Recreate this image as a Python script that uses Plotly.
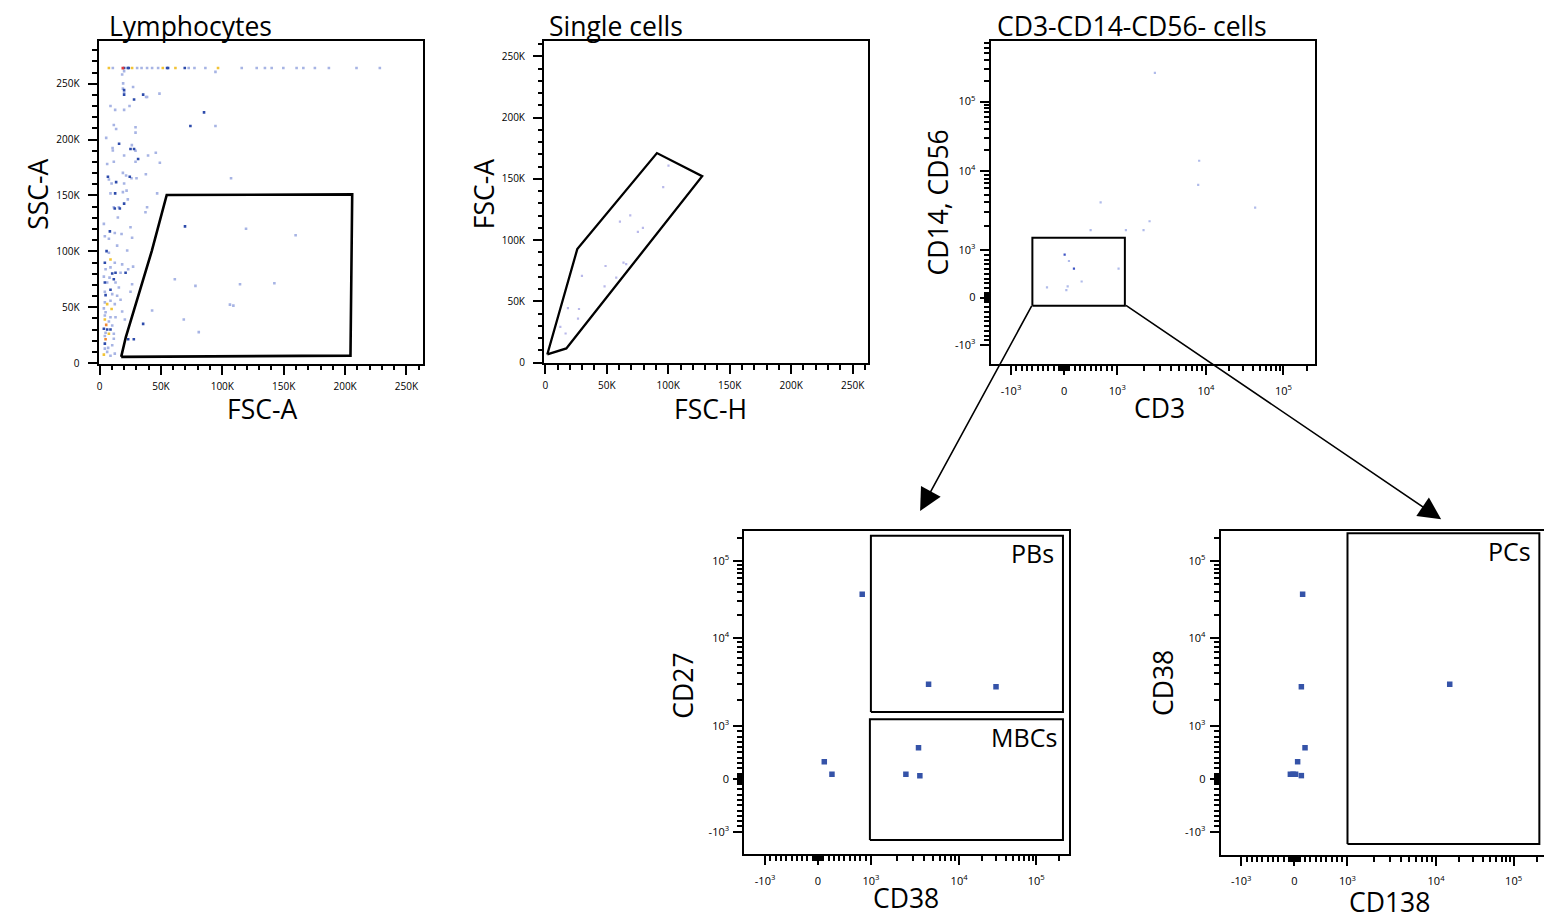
import numpy as np
import plotly.graph_objects as go

# page is 1552x922; the HTML body has an 8px margin, so the figure is offset by 8px
PAGE_W, PAGE_H = 1552, 922
OFF = 8
W, H = PAGE_W - OFF, PAGE_H - OFF
FONT = "Open Sans"

# ---------------- DATA ----------------
# Panel 1 (Lymphocytes): FSC-A (x) vs SSC-A (y), values in thousands
p1_top_y = 264.0
p1_top_light_x = [10.8, 30.6, 34.2, 38.7, 42.8, 47.7, 72.6, 77.3, 86.2, 115.8, 128.0, 134.7,
                  140.2, 149.7, 160.5, 166.0, 175.4, 186.8, 209.3, 228.3]
p1_top_dark_x = [20.0, 23.0, 23.8, 55.0, 55.8, 69.4]
p1_top_yellow_x = [7.6, 26.5, 51.5, 61.8, 96.5]
p1_top_red_x = [19.0]

p1_light = [(18.4, 258.2), (20.0, 261.2), (94.4, 260.6), (19.2, 250.3), (27.3, 247.0), (19.0, 245.6),
            (20.0, 242.3), (48.8, 241.1), (38.7, 238.1), (37.9, 238.1), (8.9, 230.1), (24.4, 230.1),
            (12.7, 226.6), (20.0, 226.6), (11.6, 213.0), (94.4, 212.1), (29.3, 211.0), (13.5, 209.5),
            (29.3, 206.2), (5.4, 201.5), (26.3, 195.0), (10.6, 192.4), (29.3, 190.0), (10.8, 190.2),
            (45.8, 188.2), (39.5, 185.8), (20.0, 185.8), (11.6, 180.2), (29.3, 180.2), (49.1, 179.3),
            (6.2, 178.2), (19.0, 170.2), (37.7, 169.0), (21.6, 167.8), (26.0, 165.4), (30.1, 165.4),
            (107.1, 165.4), (7.6, 164.3), (9.8, 160.7), (20.0, 160.7), (22.0, 154.3), (19.0, 153.0),
            (8.9, 151.9), (46.9, 151.9), (23.0, 146.5), (38.7, 139.4), (15.7, 139.4), (11.6, 139.4),
            (37.4, 135.0), (14.9, 130.3), (3.5, 124.6), (25.2, 121.5), (119.3, 120.2), (12.4, 116.4),
            (17.9, 115.5), (159.7, 114.4), (4.3, 113.5), (26.5, 112.2), (7.6, 111.3), (14.3, 105.1),
            (7.6, 98.7), (22.5, 100.7), (12.4, 89.8), (18.4, 88.3), (27.3, 86.3), (8.9, 85.6),
            (4.9, 83.9), (23.3, 83.9), (17.1, 80.9), (3.5, 77.4), (8.1, 76.5), (61.3, 75.0),
            (78.1, 69.1), (6.2, 72.1), (13.0, 72.1), (26.5, 70.6), (114.4, 70.6), (142.4, 71.5),
            (15.7, 67.6), (4.3, 63.8), (25.2, 63.8), (10.3, 61.7), (14.3, 60.3), (17.1, 56.7),
            (8.9, 55.8), (4.3, 54.3), (12.4, 52.8), (106.2, 52.3), (109.0, 51.4), (3.5, 49.0),
            (18.4, 46.1), (42.8, 47.0), (4.9, 45.5), (4.3, 42.6), (8.9, 41.0), (13.0, 41.0),
            (20.6, 39.0), (68.6, 39.0), (7.6, 37.2), (10.3, 33.7), (4.9, 27.1), (11.6, 26.2),
            (80.8, 27.7), (4.3, 24.2), (11.6, 21.8), (10.3, 16.0), (7.0, 13.6), (4.3, 12.9),
            (8.9, 6.5), (6.2, 10.0), (12.4, 8.5)]
p1_dark = [(20.0, 244.3), (20.0, 240.2), (35.5, 240.2), (28.1, 235.8), (85.1, 224.3), (74.0, 212.1),
           (15.9, 196.2), (25.2, 191.5), (28.1, 191.5), (31.4, 182.6), (24.6, 166.7), (6.8, 166.7),
           (13.5, 161.9), (12.7, 151.9), (20.0, 142.7), (12.4, 138.3), (16.5, 138.3), (69.6, 122.3),
           (8.4, 117.9), (5.7, 100.2), (4.3, 89.8), (13.0, 80.9), (10.3, 80.1), (21.2, 80.9),
           (11.6, 75.0), (4.3, 72.1), (8.9, 65.6), (4.9, 60.8), (35.5, 35.1), (3.5, 30.7),
           (6.2, 30.1), (8.9, 30.1), (23.3, 21.3), (27.9, 21.3), (4.3, 17.4)]
p1_yellow = [(8.9, 92.7), (6.2, 52.8), (9.8, 48.4), (4.3, 39.0), (7.6, 26.2), (3.5, 7.6)]
p1_orange = [(5.4, 34.2), (4.9, 21.3)]
p1_gate = [(17.6, 5.6), (21.4, 23.3), (42.5, 100.2), (54.7, 150.4), (205.8, 151.0), (204.4, 6.7)]

# Panel 2 (Single cells): FSC-H (x) vs FSC-A (y), thousands
p2_points = [(100.2, 160.8), (95.9, 143.3), (69.1, 120.3), (60.7, 115.2), (79.4, 110.1), (75.3, 106.8),
             (49.0, 78.9), (63.6, 81.7), (65.8, 80.5), (29.8, 70.8), (57.7, 69.5), (48.2, 62.2),
             (18.4, 44.6), (27.4, 43.8), (26.6, 35.9), (12.2, 29.2), (16.5, 23.8)]
p2_gate = [(1.6, 6.7), (17.1, 11.6), (127.6, 152.2), (90.8, 171.1), (26.0, 92.7)]

# Panel 3 (CD3-CD14-CD56- cells): CD3 (x) vs CD14, CD56 (y), raw fluorescence
p3_light = [(2655, 260000), (8395, 14000), (8185, 6668), (686, 4000), (43200, 3434), (2312, 2312),
            (498, 1782), (1250, 1782), (1977, 1782), (90, 770), (1033, 611), (329, 339),
            (-323, 213), (66, 234), (41, 157)]
p3_dark = [(9, 903), (184, 611)]
p3_gate = dict(x0=-598, x1=1217, y0=-172, y1=1429)

# Panel 4: CD38 (x) vs CD27 (y)
p4_points = [(836, 37200), (4508, 2990), (30100, 2793), (119, 325), (264, 88), (3467, 589),
             (2493, 88), (3590, 62)]
p4_gate_pb = dict(x0=1000, x1=221900, y0=1445, y1=212800)
p4_gate_mbc = dict(x0=981, x1=221900, y0=-1242, y1=1194)

# Panel 5: CD138 (x) vs CD38 (y)
p5_points = [(156, 37200), (132, 2793), (15000, 2990), (201, 589), (62, 325), (-75, 88),
             (-24, 88), (24, 88), (132, 62)]
p5_gate_pc = dict(x0=1000, x1=215000, y0=-1379, y1=229600)

lin_major = [0, 50, 100, 150, 200, 250]
lin_labels = ["0", "50K", "100K", "150K", "200K", "250K"]
biex_major = [-1000, 0, 1000, 10000, 100000]
biex_labels = ["-10<sup>3</sup>", "0", "10<sup>3</sup>", "10<sup>4</sup>", "10<sup>5</sup>"]

# ---------------- SCALE (FlowJo-like biexponential display) ----------------
LIN = 0.6     # display units for 0..1000 (linear part)
TOP = 0.875   # display units per decade above 1e4


def biex(v):
    v = np.asarray(v, dtype=float)
    a = np.abs(v)
    lg = np.log10(np.maximum(a, 1e-9))
    u = np.where(a <= 1000, LIN * a / 1000,
                 np.where(a <= 1e4, LIN + (lg - 3), LIN + 1 + TOP * (lg - 4)))
    return np.sign(v) * u


def biex_minor(lo, hi):
    vals = []
    for k in range(1, 10):
        vals += [k * 10, k * 100, -k * 10, -k * 100]
    for dec in (1e3, 1e4, 1e5):
        for k in range(2, 10):
            vals += [k * dec, -k * dec]
    vals = np.array(sorted(set(vals)))
    u = biex(vals)
    majors = set(np.round(biex(biex_major), 6))
    return [float(x) for x in u if lo <= x <= hi and round(float(x), 6) not in majors]


# ---------------- LAYOUT HELPERS (page pixel positions -> paper) ----------------
def px2p(px):
    return (px - OFF) / W


def py2p(py):
    return 1 - (py - OFF) / H


def xdom(x0, x1):
    return [px2p(x0), px2p(x1)]


def ydom(y0, y1):
    return [py2p(y1), py2p(y0)]


panels = {
    1: dict(x=(96.7, 421.7), y=(41, 366), xr=[-0.8, 263.6], yr=[-0.5, 288.4]),
    2: dict(x=(542.7, 867), y=(41, 365.7), xr=[-1.06, 262.4], yr=[-0.57, 262.8]),
    3: dict(x=(990, 1315), y=(41, 366.7), xr=[-0.829, 2.835], yr=[-0.843, 3.243]),
    4: dict(x=(743.3, 1068.7), y=(534, 860), xr=[-0.835, 2.85], yr=[-0.858, 2.822]),
    5: dict(x=(1220.3, 1546), y=(534, 860.7), xr=[-0.831, 2.841], yr=[-0.866, 2.822]),
}

base_axis = dict(showline=True, linecolor="black", linewidth=2, mirror=True, ticks="outside",
                 ticklen=9, tickwidth=1.6, tickcolor="black", showgrid=False, zeroline=False,
                 tickfont=dict(family=FONT, size=10, color="black"), fixedrange=True, tickmode="array")


def lin_axis(i, which, standoff):
    p = panels[i]
    ax = dict(base_axis)
    ax.update(tickvals=lin_major, ticktext=lin_labels, ticklabelstandoff=standoff,
              minor=dict(ticks="outside", ticklen=4.5, tickwidth=1.6, tickcolor="black", dtick=10, tick0=0))
    if which == "x":
        ax.update(domain=xdom(*p["x"]), range=p["xr"], anchor="y" + ("" if i == 1 else str(i)))
    else:
        ax.update(domain=ydom(*p["y"]), range=p["yr"], anchor="x" + ("" if i == 1 else str(i)))
    return ax


def biex_axis(i, which, standoff):
    p = panels[i]
    rng = p["xr"] if which == "x" else p["yr"]
    ax = dict(base_axis)
    ax.update(tickvals=[float(u) for u in biex(biex_major)], ticktext=biex_labels, ticklabelstandoff=standoff,
              tickfont=dict(family=FONT, size=11, color="black"),
              minor=dict(ticks="outside", ticklen=5, tickwidth=1.6, tickcolor="black",
                         tickmode="array", tickvals=biex_minor(rng[0], rng[1])))
    if which == "x":
        ax.update(domain=xdom(*p["x"]), range=rng, anchor="y" + str(i))
    else:
        ax.update(domain=ydom(*p["y"]), range=rng, anchor="x" + str(i))
    return ax


def to_pixel(i, xu, yu):
    p = panels[i]
    (x0, x1), (y0, y1) = p["x"], p["y"]
    px = x0 + (xu - p["xr"][0]) / (p["xr"][1] - p["xr"][0]) * (x1 - x0)
    py = y1 - (yu - p["yr"][0]) / (p["yr"][1] - p["yr"][0]) * (y1 - y0)
    return px, py


def xy(pts):
    return [a for a, _ in pts], [b for _, b in pts]


# ---------------- FIGURE ----------------
fig = go.Figure()


def add_pts(x, y, ax, color, size, symbol="square"):
    fig.add_trace(go.Scatter(x=x, y=y, mode="markers", xaxis=ax[0], yaxis=ax[1], hoverinfo="skip",
                             marker=dict(symbol=symbol, size=size, color=color, line=dict(width=0))))


def add_line(x, y, ax, width=2):
    fig.add_trace(go.Scatter(x=x, y=y, mode="lines", xaxis=ax[0], yaxis=ax[1], hoverinfo="skip",
                             line=dict(color="black", width=width)))


def add_rect(g, ax, width=2):
    xs = biex([g["x0"], g["x1"], g["x1"], g["x0"], g["x0"]])
    ys = biex([g["y0"], g["y0"], g["y1"], g["y1"], g["y0"]])
    add_line(xs, ys, ax, width)


LIGHT, DARK, YEL, ORG, RED = "#a7b4e4", "#2d4bab", "#f2c436", "#ef8a35", "#e03a3a"

# Panel 1
A1 = ("x", "y")
lx, ly = xy(p1_light)
add_pts(lx + p1_top_light_x, ly + [p1_top_y] * len(p1_top_light_x), A1, LIGHT, 2.6)
dx, dy = xy(p1_dark)
add_pts(dx + p1_top_dark_x, dy + [p1_top_y] * len(p1_top_dark_x), A1, DARK, 2.6)
yx, yy = xy(p1_yellow)
add_pts(yx + p1_top_yellow_x, yy + [p1_top_y] * len(p1_top_yellow_x), A1, YEL, 2.6)
ox, oy = xy(p1_orange)
add_pts(ox, oy, A1, ORG, 2.6)
add_pts(p1_top_red_x, [p1_top_y] * len(p1_top_red_x), A1, RED, 2.8)
gx, gy = xy(p1_gate + p1_gate[:1])
add_line(gx, gy, A1, 2.6)

# Panel 2
A2 = ("x2", "y2")
px2, py2 = xy(p2_points)
add_pts(px2, py2, A2, "#b9b9ea", 2.2)
gx, gy = xy(p2_gate + p2_gate[:1])
add_line(gx, gy, A2, 2.3)

# Panel 3
A3 = ("x3", "y3")
x3, y3 = xy(p3_light)
add_pts(biex(x3), biex(y3), A3, "#b0bbea", 2.2)
x3d, y3d = xy(p3_dark)
add_pts(biex(x3d), biex(y3d), A3, "#3f55c4", 2.2)
add_rect(p3_gate, A3, 2)

# Panel 4
A4 = ("x4", "y4")
x4, y4 = xy(p4_points)
add_pts(biex(x4), biex(y4), A4, "#3553a8", 5.5)
add_rect(p4_gate_pb, A4, 2)
add_rect(p4_gate_mbc, A4, 2)

# Panel 5
A5 = ("x5", "y5")
x5, y5 = xy(p5_points)
add_pts(biex(x5), biex(y5), A5, "#3553a8", 5.5)
add_rect(p5_gate_pc, A5, 2)

layout = dict(width=W, height=H, margin=dict(l=0, r=0, t=0, b=0), showlegend=False,
              paper_bgcolor="white", plot_bgcolor="white", font=dict(family=FONT, color="black"))
layout["xaxis"] = lin_axis(1, "x", 3)
layout["yaxis"] = lin_axis(1, "y", 6)
layout["xaxis2"] = lin_axis(2, "x", 3)
layout["yaxis2"] = lin_axis(2, "y", 6)
for i in (3, 4, 5):
    layout["xaxis%d" % i] = biex_axis(i, "x", 6)
    layout["yaxis%d" % i] = biex_axis(i, "y", 2)


def txt(text, px, py, size, angle=0, xanchor="center"):
    return dict(text=text, x=px2p(px), y=py2p(py), xref="paper", yref="paper", showarrow=False,
                xanchor=xanchor, yanchor="middle", textangle=angle,
                font=dict(family=FONT, size=size, color="black"))


TS, AS = 26.5, 26.5
annotations = [
    txt("Lymphocytes", 105, 26, TS, xanchor="left"),
    txt("Single cells", 546, 26, TS, xanchor="left"),
    txt("CD3-CD14-CD56- cells", 994, 26, TS, xanchor="left"),
    txt("FSC-A", 260, 412, AS),
    txt("SSC-A", 36, 195, AS, -90),
    txt("FSC-H", 709, 412, AS),
    txt("FSC-A", 482, 195, AS, -90),
    txt("CD3", 1159, 411, AS),
    txt("CD14, CD56", 937, 204, AS, -90),
    txt("CD38", 905, 904, AS),
    txt("CD27", 681, 690, AS, -90),
    txt("CD138", 1389, 908, AS),
    txt("CD38", 1162, 688, AS, -90),
]


def gate_label(text, i, xfrac, yfrac, size=25):
    return dict(text=text, x=xfrac, y=yfrac, xref="x%d domain" % i, yref="y%d domain" % i,
                showarrow=False, xanchor="right", yanchor="middle",
                font=dict(family=FONT, size=size, color="black"))


annotations += [gate_label("PBs", 4, 0.958, 0.930), gate_label("MBCs", 4, 0.968, 0.363),
                gate_label("PCs", 5, 0.961, 0.936)]

# arrows from the CD3-CD14-CD56- gate corners to the downstream plots
t1 = to_pixel(3, float(biex(p3_gate["x0"])), float(biex(p3_gate["y0"])))
t2 = to_pixel(3, float(biex(p3_gate["x1"])), float(biex(p3_gate["y0"])))
for tail, tip in ((t1, (919.3, 514.3)), (t2, (1441.0, 522.7))):
    annotations.append(dict(x=px2p(tip[0]), y=py2p(tip[1]), xref="paper", yref="paper",
                            ax=tail[0] - tip[0], ay=tail[1] - tip[1], axref="pixel", ayref="pixel",
                            text="", showarrow=True, arrowhead=2, arrowsize=2.8, arrowwidth=1.6,
                            arrowcolor="black", standoff=0, startstandoff=0))

layout["annotations"] = annotations
fig.update_layout(**layout)
fig.write_html("out.html")
